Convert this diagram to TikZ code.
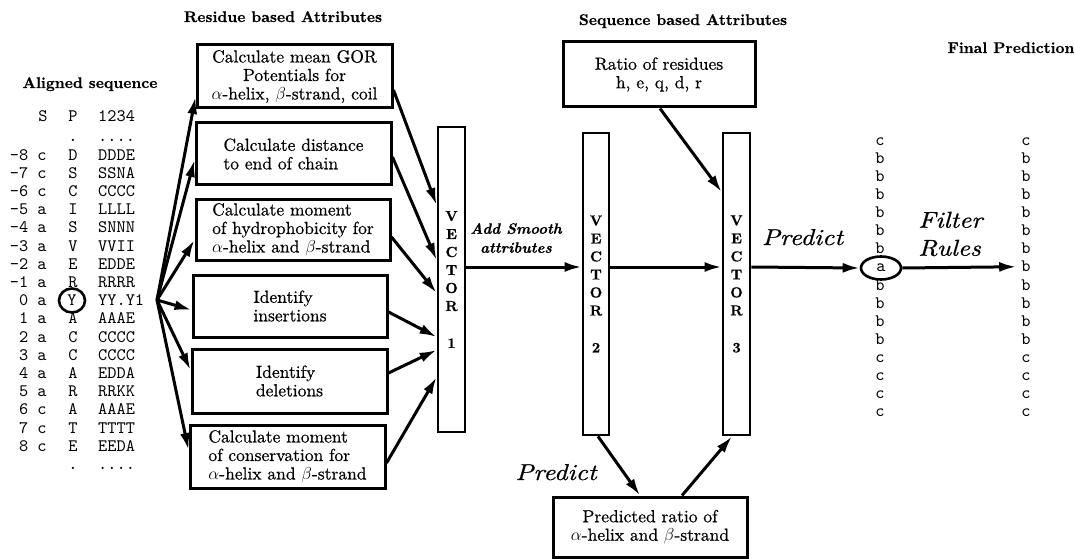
\documentclass[tikz,border=0pt]{standalone}
\usepackage{fontspec}
\usepackage{graphicx}
\setmainfont{lmroman10-regular.otf}[BoldFont=lmroman10-bold.otf, ItalicFont=lmroman10-italic.otf, BoldItalicFont=lmroman10-bolditalic.otf, FakeBold=0.6]
\newfontfamily\monofont{lmmono10-regular.otf}
\usetikzlibrary{arrows.meta,shapes.geometric}
\newcommand{\wide}[1]{\scalebox{1.15}[1]{#1}}
\begin{document}
\begin{tikzpicture}[x=1pt,y=-1pt,
  box/.style={draw, line width=3pt, inner sep=0pt, font=\fontsize{17.5}{18.5}\selectfont},
  vbox/.style={draw, line width=2.8pt, inner sep=0pt, align=center, font=\fontsize{14.5}{18}\selectfont\bfseries},
  arr/.style={line width=3pt, -{Latex[length=17pt,width=10pt]}},
  ttl/.style={font=\fontsize{15.5}{18}\selectfont\bfseries, anchor=base, inner sep=0pt},
  mono/.style={font=\monofont\fontsize{17.5}{18}\selectfont, inner sep=0pt},
  lab/.style={font=\fontsize{23}{28}\selectfont\itshape, inner sep=0pt},
  circ/.style={draw, ellipse, line width=2.6pt, inner sep=0pt}
]
\useasboundingbox (0,0) rectangle (1074,559);

% titles
\node[ttl] (t1) at (283,22) {Residue based Attributes};
\node[ttl] (t2) at (90,88) {Aligned sequence};
\node[ttl] (t3) at (683,25) {Sequence based Attributes};
\node[ttl] (t4) at (1011,53) {Final Prediction};

% aligned sequence table
\node[mono, anchor=base] (hs) at (43,122) {S};
\node[mono, anchor=base] (hp) at (73,122) {P};
\node[mono, anchor=base west] (hq) at (98,122) {1234};
\node[mono, anchor=base] (dp) at (73,142) {.};
\node[mono, anchor=base west] (dq) at (98,142) {....};
\foreach \i/\s/\q in {-8/c/DDDE,-7/c/SSNA,-6/c/CCCC,-5/a/LLLL,-4/a/SNNN,-3/a/VVII,-2/a/EDDE,-1/a/RRRR,0/a/YY.Y1,1/a/AAAE,2/a/CCCC,3/a/CCCC,4/a/EDDA,5/a/RRKK,6/c/AAAE,7/c/TTTT,8/c/EEDA}{
  \node[mono, anchor=base east] (n\i) at (28.5,305.7+18.2*\i) {\i};
  \node[mono, anchor=base] (s\i) at (42,305.7+18.2*\i) {\s};
  \node[mono, anchor=base west] (q\i) at (98,305.7+18.2*\i) {\q};
}
\foreach \i/\p in {-8/D,-7/S,-6/C,-5/I,-4/S,-3/V,-2/E,-1/R,1/A,2/C,3/C,4/A,5/R,6/A,7/T,8/E}{
  \node[mono, anchor=base] (p\i) at (73,305.7+18.2*\i) {\p};
}
\node[mono, circ, minimum width=26pt, minimum height=24pt] (p0) at (72,300.5) {Y};
\node[mono, anchor=base] (bp) at (73,469) {.};
\node[mono, anchor=base west] (bq) at (98,469) {....};

% residue boxes
\node[box, align=center, minimum width=195pt, minimum height=63pt] (b1) at (294.5,76.5)
  {Calculate mean GOR\\Potentials for\\$\alpha$-helix, $\beta$-strand, coil};
\node[box, align=left, minimum width=195pt, minimum height=62pt] (b2) at (293.5,154)
  {Calculate distance\\to end of chain};
\node[box, align=left, minimum width=194pt, minimum height=61pt] (b3) at (293,229.5)
  {Calculate moment\\of hydrophobicity for\\$\alpha$-helix and $\beta$-strand};
\node[box, align=left, minimum width=194pt, minimum height=62pt] (b4) at (290,306)
  {Identify\\insertions};
\node[box, align=left, minimum width=195pt, minimum height=64pt] (b5) at (289.5,381)
  {Identify\\deletions};
\node[box, align=left, minimum width=195pt, minimum height=63pt] (b6) at (287.5,456.5)
  {Calculate moment\\of conservation for\\$\alpha$-helix and $\beta$-strand};

% sequence boxes
\node[box, align=center, minimum width=192pt, minimum height=65pt] (rb) at (659,74.5)
  {Ratio of residues\\h, e, q, d, r};
\node[box, align=center, minimum width=194pt, minimum height=60pt] (pb) at (650,527)
  {Predicted ratio of\\$\alpha$-helix and $\beta$-strand};

% vectors
\node[vbox, minimum width=27pt, minimum height=305pt] (v1) at (451.5,279.5)
  {V\\E\\C\\T\\O\\R\\[19pt]1};
\node[vbox, minimum width=26pt, minimum height=302pt] (v2) at (596,284)
  {V\\E\\C\\T\\O\\R\\[19pt]2};
\node[vbox, minimum width=27pt, minimum height=302pt] (v3) at (736.5,284)
  {V\\E\\C\\T\\O\\R\\[19pt]3};

% labels
\node[font=\fontsize{15}{19}\selectfont\bfseries\itshape, align=center, inner sep=0pt] (smooth) at (516,238)
  {Add Smooth\\attributes};
\node[lab, anchor=base] (pr1) at (556,480) {\wide{Predict}};
\node[lab, anchor=base] (pr2) at (802.5,245) {\wide{Predict}};
\node[lab, align=left, anchor=west] (fr) at (918,234) {\wide{Filter}\\\wide{Rules}};

% prediction columns
\foreach \k/\c in {0/c,1/b,2/b,3/b,4/b,5/b,6/b,8/b,9/b,10/b,11/b,12/c,13/c,14/c,15/c}{
  \node[mono, anchor=base] (e\k) at (880,145.5+18.07*\k) {\c};
}
\node[mono, circ, minimum width=40pt, minimum height=23pt] (a) at (881,268) {a};
\foreach \k/\c in {0/c,1/b,2/b,3/b,4/b,5/b,6/b,7/b,8/b,9/b,10/b,11/b,12/c,13/c,14/c,15/c}{
  \node[mono, anchor=base] (f\k) at (1026,145.5+18.07*\k) {\c};
}

% connectors
\coordinate (fan) at (157,300);
\draw[arr] (fan) -- (b1.west |- 0,97);
\draw[arr] (fan) -- (b2.west |- 0,160);
\draw[arr] (fan) -- (b3.west |- 0,240);
\draw[arr] (fan) -- (b4.west |- 0,310);
\draw[arr] (fan) -- (b5.west |- 0,370);
\draw[arr] (fan) -- (b6.west |- 0,450);

\draw[arr] (b1.east |- 0,90) -- (v1.west |- 0,205);
\draw[arr] (b2.east |- 0,157) -- (v1.west |- 0,260);
\draw[arr] (b3.east |- 0,237) -- (v1.west |- 0,293);
\draw[arr] (b4.east |- 0,312) -- (v1.west |- 0,337);
\draw[arr] (b5.east |- 0,373) -- (v1.west |- 0,350);
\draw[arr] (b6.east |- 0,463) -- (v1.west |- 0,377);

\draw[arr] (v1.east |- 0,267) -- (v2.west |- 0,267);
\draw[arr] (v2.east |- 0,267) -- (v3.west |- 0,267);
\draw[arr] (v3.east |- 0,267) -- (a.west);
\draw[arr, shorten >=5pt] (a.east) -- (f7.west);

\draw[arr] (rb.south -| 660,0) -- (v3.west |- 0,192);
\draw[arr] (v2.south -| 598,0) -- (pb.north -| 640,0);
\draw[arr] (pb.north -| 682,0) -- (v3.south -| 732,0);
\end{tikzpicture}
\end{document}
